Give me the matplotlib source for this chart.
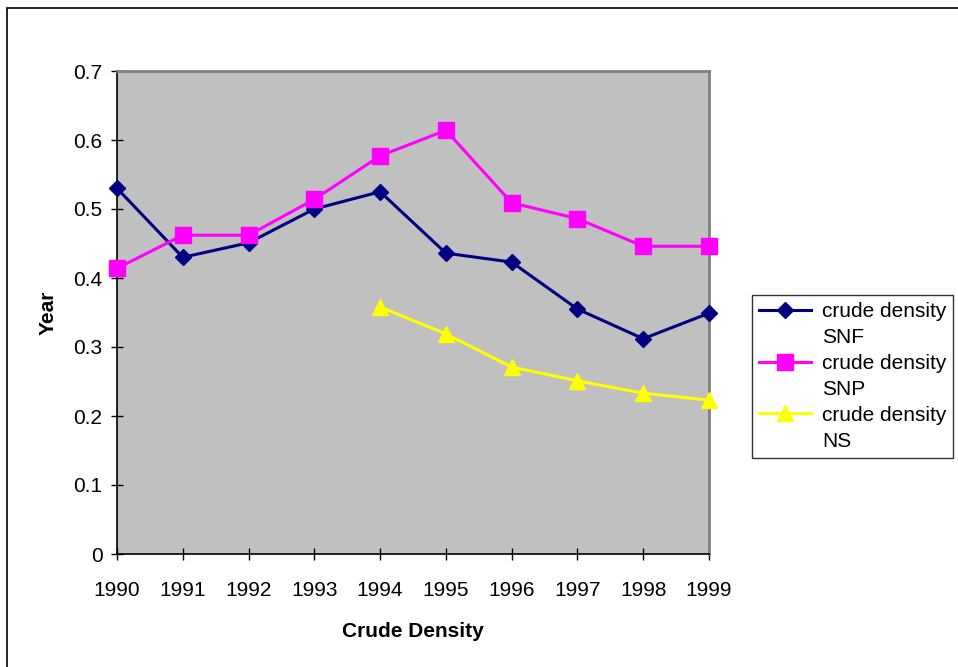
import matplotlib
matplotlib.use("Agg")
import matplotlib.pyplot as plt
from matplotlib.patches import Rectangle
from matplotlib.lines import Line2D
import numpy as np

plt.rcParams['font.family'] = ['Liberation Sans', 'DejaVu Sans']

years = [1990, 1991, 1992, 1993, 1994, 1995, 1996, 1997, 1998, 1999]
snf = [0.530, 0.430, 0.451, 0.500, 0.525, 0.436, 0.423, 0.355, 0.312, 0.349]
snp = [0.414, 0.462, 0.462, 0.514, 0.577, 0.614, 0.509, 0.486, 0.446, 0.446]
ns_years = [1994, 1995, 1996, 1997, 1998, 1999]
ns = [0.358, 0.319, 0.271, 0.251, 0.233, 0.223]
label_main = ["crude density", "crude density", "crude density"]
label_sub = ["SNF", "SNP", "NS"]
yticks = [0, 0.1, 0.2, 0.3, 0.4, 0.5, 0.6, 0.7]
ytick_labels = ["0", "0.1", "0.2", "0.3", "0.4", "0.5", "0.6", "0.7"]

W, H = 958, 667
FS = 15
fig = plt.figure(figsize=(W / 100, H / 100), dpi=100)

# outer chart border (top and left visible)
fig.add_artist(Rectangle((6.5 / W, -0.1), 1.2, (H - 7.5) / H + 0.1,
                         transform=fig.transFigure, fill=False,
                         edgecolor='#000000', linewidth=1.2))

ax = fig.add_axes([117 / W, (H - 554) / H, (709 - 117) / W, (554 - 71) / H])
ax.set_facecolor('#C0C0C0')

l1, = ax.plot(years, snf, color='#000080', marker='D', markersize=7.8,
              linewidth=2.2, clip_on=False, zorder=3)
l2, = ax.plot(years, snp, color='#FF00FF', marker='s', markersize=11,
              linewidth=2.2, clip_on=False, zorder=3)
l3, = ax.plot(ns_years, ns, color='#FFFF00', marker='^', markersize=11,
              linewidth=2.2, clip_on=False, zorder=3)

ax.set_xlim(1990, 1999)
ax.set_ylim(0, 0.7)
ax.set_xticks(years)
ax.set_xticklabels([str(y) for y in years])
ax.set_yticks(yticks)
ax.set_yticklabels(ytick_labels)

for s in ['left', 'bottom']:
    ax.spines[s].set_color('#000000')
    ax.spines[s].set_linewidth(1.2)
for s in ['top', 'right']:
    ax.spines[s].set_color('#808080')
    ax.spines[s].set_linewidth(2)

ax.tick_params(axis='x', direction='inout', length=9, width=1, pad=15,
               labelsize=FS, colors='#000000')
ax.tick_params(axis='y', direction='inout', length=9, width=1, pad=6,
               labelsize=FS, colors='#000000')

ax.set_xlabel('Crude Density', fontsize=FS, fontweight='bold', labelpad=16)
ax.set_ylabel('Year', fontsize=FS, fontweight='bold', labelpad=11)

blank = Line2D([], [], linestyle='none', marker='none')
handles, texts = [], []
for h, m, s in zip([l1, l2, l3], label_main, label_sub):
    handles += [h, blank]
    texts += [m, s]

leg = fig.legend(handles, texts, loc='upper left',
                 bbox_to_anchor=(752 / W, (H - 295) / H),
                 frameon=True, fancybox=False, fontsize=FS,
                 handlelength=2.5, handletextpad=0.5, labelspacing=0.33,
                 borderpad=0.35, borderaxespad=0)
leg.get_frame().set_edgecolor('#000000')
leg.get_frame().set_linewidth(1)

fig.savefig('out.png', dpi=100)
